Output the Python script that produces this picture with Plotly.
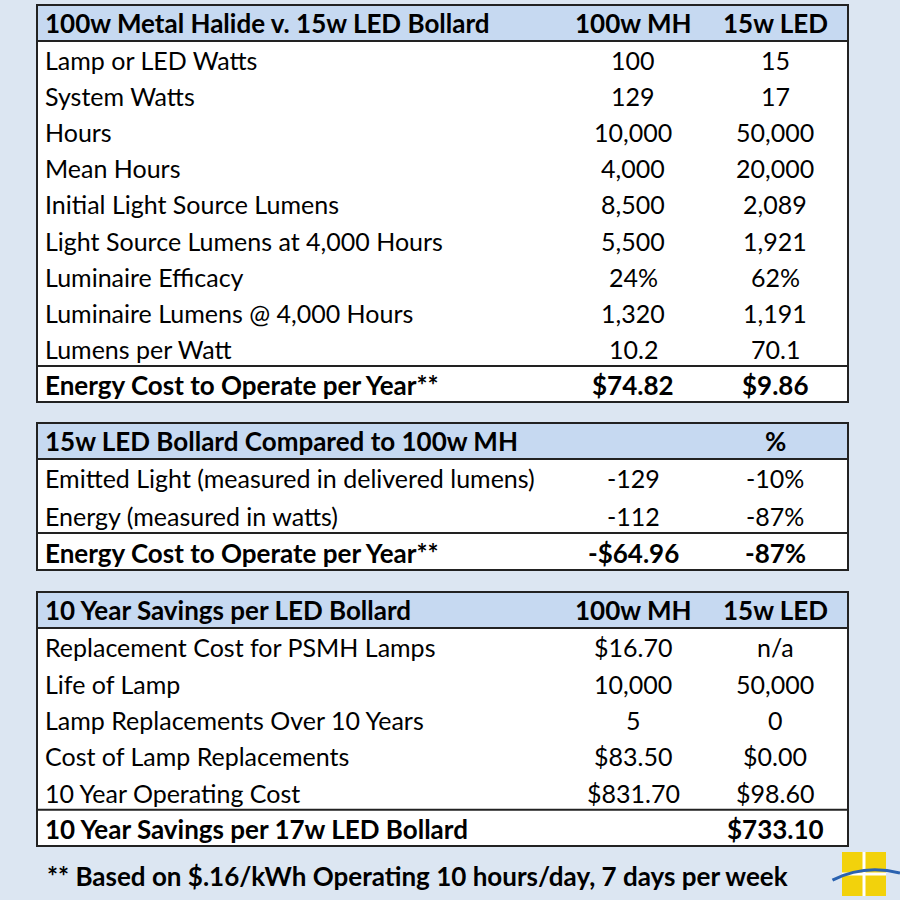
import plotly.graph_objects as go

# table 1
t1_header = ["100w Metal Halide v. 15w LED Bollard", "100w MH", "15w LED"]
t1_labels = ["Lamp or LED Watts", "System Watts", "Hours", "Mean Hours",
             "Initial Light Source Lumens", "Light Source Lumens at 4,000 Hours",
             "Luminaire Efficacy", "Luminaire Lumens @ 4,000 Hours",
             "Lumens per Watt", "Energy Cost to Operate per Year**"]
t1_mh = ["100", "129", "10,000", "4,000", "8,500", "5,500", "24%", "1,320", "10.2", "$74.82"]
t1_led = ["15", "17", "50,000", "20,000", "2,089", "1,921", "62%", "1,191", "70.1", "$9.86"]

# table 2
t2_header = ["15w LED Bollard Compared to 100w MH", "", "%"]
t2_labels = ["Emitted Light (measured in delivered lumens)", "Energy (measured in watts)",
             "Energy Cost to Operate per Year**"]
t2_diff = ["-129", "-112", "-$64.96"]
t2_pct = ["-10%", "-87%", "-87%"]

# table 3
t3_header = ["10 Year Savings per LED Bollard", "100w MH", "15w LED"]
t3_labels = ["Replacement Cost for PSMH Lamps", "Life of Lamp", "Lamp Replacements Over 10 Years",
             "Cost of Lamp Replacements", "10 Year Operating Cost",
             "10 Year Savings per 17w LED Bollard"]
t3_mh = ["$16.70", "10,000", "5", "$83.50", "$831.70", ""]
t3_led = ["n/a", "50,000", "0", "$0.00", "$98.60", "$733.10"]

footnote = "** Based on $.16/kWh Operating 10 hours/day, 7 days per week"

BG = "#dce6f2"
HEAD = "#c6d9f1"
FONT = "Lato"
FS = 25
X0, X1 = 37, 848
COLX = [43, 633, 775]


def py(y):
    return 1 - y / 900


def px(x):
    return x / 900


shapes = []
annotations = []


def text(s, x, y, anchor, bold=False, size=FS):
    annotations.append(dict(text=("<b>%s</b>" % s) if bold else s, xref="paper", yref="paper",
                            x=px(x), y=py(y), xanchor=anchor, yanchor="middle", showarrow=False,
                            font=dict(family=FONT, size=size, color="black")))


def hline(y):
    shapes.append(dict(type="line", xref="paper", yref="paper", x0=px(X0), x1=px(X1),
                       y0=py(y), y1=py(y), line=dict(color="#222", width=2)))


tables = [(5, 41, 402, t1_header, [t1_labels, t1_mh, t1_led]),
          (423, 459, 570, t2_header, [t2_labels, t2_diff, t2_pct]),
          (592, 628, 846, t3_header, [t3_labels, t3_mh, t3_led])]

for top, head_bottom, bottom, header, cols in tables:
    n = len(cols[0])
    row = (bottom - head_bottom) / n
    shapes.append(dict(type="rect", xref="paper", yref="paper", x0=px(X0), x1=px(X1),
                       y0=py(head_bottom), y1=py(top), fillcolor=HEAD, line=dict(width=0)))
    shapes.append(dict(type="rect", xref="paper", yref="paper", x0=px(X0), x1=px(X1),
                       y0=py(bottom), y1=py(head_bottom), fillcolor="white", line=dict(width=0)))
    hline(head_bottom)
    hline(bottom - row)
    shapes.append(dict(type="rect", xref="paper", yref="paper", x0=px(X0), x1=px(X1),
                       y0=py(bottom), y1=py(top), line=dict(color="#222", width=2)))
    hy = (top + head_bottom) / 2
    for j, h in enumerate(header):
        if h:
            text(h, COLX[j], hy, "left" if j == 0 else "center", bold=True, size=26)
    for i in range(n):
        cy = head_bottom + row * (i + 0.5) + 1
        last = i == n - 1
        for j, col in enumerate(cols):
            if col[i]:
                text(col[i], COLX[j], cy, "left" if j == 0 else "center", bold=last,
                     size=26 if last else FS)

text(footnote, 45, 876, "left", bold=True, size=26)

# logo
shapes.append(dict(type="rect", xref="paper", yref="paper", x0=px(842), x1=px(886),
                   y0=py(896), y1=py(852), fillcolor="#f2d20c", line=dict(width=0)))
shapes.append(dict(type="line", xref="paper", yref="paper", x0=px(864), x1=px(864),
                   y0=py(896), y1=py(852), line=dict(color="white", width=3)))
shapes.append(dict(type="line", xref="paper", yref="paper", x0=px(842), x1=px(886),
                   y0=py(874), y1=py(874), line=dict(color="white", width=3)))
shapes.append(dict(type="path", xref="paper", yref="paper",
                   path="M 0.925 0.022 Q 0.96 0.04 1.0 0.03",
                   line=dict(color="#2a62b0", width=3)))

fig = go.Figure()
fig.update_layout(
    width=900, height=900, margin=dict(l=0, r=0, t=0, b=0),
    paper_bgcolor=BG, plot_bgcolor=BG, shapes=shapes, annotations=annotations,
    xaxis=dict(visible=False), yaxis=dict(visible=False),
)
fig.write_html("out.html", config={"displayModeBar": False},
               post_script="document.body.style.margin='0';")
